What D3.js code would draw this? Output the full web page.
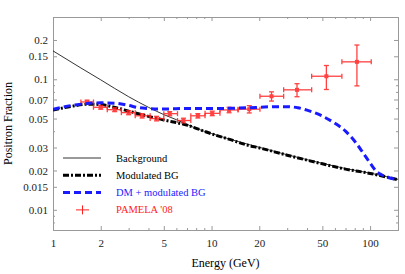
<!DOCTYPE html>
<html>
<head>
<meta charset="utf-8">
<script src="https://cdn.jsdelivr.net/npm/d3@7"></script>
<style>
  body { margin: 0; background: #fff; }
  text { font-family: "Liberation Serif", "DejaVu Serif", serif; }
</style>
</head>
<body>
<div id="chart"></div>
<script>
// curves (energy in GeV, positron fraction)
var bgEnergy = [1, 1.5, 2, 3, 4, 5, 6, 7, 8, 10, 13, 20, 30, 50, 70, 100, 150];
var bgValue  = [0.165, 0.122, 0.099, 0.0735, 0.061, 0.0536, 0.049, 0.0452, 0.042, 0.0384, 0.0348, 0.0301, 0.0264, 0.0227, 0.0207, 0.0191, 0.0171];

var modEnergy = [1, 1.3, 1.7, 2, 2.5, 3, 4, 5, 7, 10, 13, 17, 20, 30, 50, 70, 100, 150];
var modValue  = [0.058, 0.062, 0.0645, 0.064, 0.0605, 0.057, 0.052, 0.0488, 0.0445, 0.0382, 0.0346, 0.0312, 0.0298, 0.0262, 0.0225, 0.0205, 0.019, 0.017];

var dmEnergy = [1, 1.5, 2, 2.5, 3, 3.5, 4, 5, 7, 10, 15, 20, 25, 30, 35, 40, 50, 60, 70, 80, 90, 100, 110, 120, 150];
var dmValue  = [0.059, 0.0645, 0.066, 0.0655, 0.063, 0.0605, 0.0597, 0.0592, 0.0597, 0.0597, 0.0602, 0.061, 0.0617, 0.0617, 0.0605, 0.058, 0.0522, 0.046, 0.04, 0.0335, 0.0275, 0.0228, 0.0196, 0.0184, 0.017];

// PAMELA '08 points
var pamE    = [1.64, 2.0, 2.45, 3.0, 3.65, 4.5, 5.45, 6.65, 8.2, 10.1, 12.9, 17.3, 23.9, 34.6, 53, 82.6];
var pamLo   = [1.5, 1.8, 2.2, 2.7, 3.3, 4.1, 5.0, 6.1, 7.4, 9.1, 11.3, 14.7, 20.2, 28.5, 42.8, 66.4];
var pamHi   = [1.8, 2.2, 2.7, 3.3, 4.1, 5.0, 6.1, 7.4, 9.1, 11.3, 14.7, 20.2, 28.5, 42.8, 66.4, 101.7];
var pamVal  = [0.067, 0.061, 0.0585, 0.0555, 0.0525, 0.05, 0.0545, 0.0483, 0.0525, 0.0548, 0.0582, 0.059, 0.0741, 0.083, 0.1055, 0.136];
var pamErr  = [0.0022, 0.002, 0.002, 0.002, 0.002, 0.002, 0.002, 0.002, 0.002, 0.0022, 0.0028, 0.0038, 0.006, 0.0095, 0.022, 0.047];

var xTicks = [1, 2, 5, 10, 20, 50, 100];
var yTicks = [0.01, 0.015, 0.02, 0.03, 0.05, 0.07, 0.1, 0.15, 0.2];
var xMinor = [3, 4, 6, 7, 8, 9, 30, 40, 60, 70, 80, 90];
var yMinor = [0.008, 0.009, 0.04, 0.06, 0.08, 0.09, 0.3];

var legendNames  = ["Background", "Modulated BG", "DM + modulated BG", "PAMELA '08"];
var legendColors = ["#000", "#000", "#1a1aff", "#ff2020"];

var width = 405, height = 274;
var margin = {top: 17, right: 7, bottom: 44, left: 53};

var svg = d3.select("#chart").append("svg")
    .attr("width", width)
    .attr("height", height);

var x = d3.scaleLog().domain([1, 150]).range([margin.left, width - margin.right]);
var y = d3.scaleLog().domain([0.007, 0.3]).range([height - margin.bottom, margin.top]);

var fmt = function(d) { return String(d); };
var frameColor = "#999";

function styleAxis(g) {
    g.select(".domain").attr("stroke", frameColor);
    g.selectAll(".tick line").attr("stroke", frameColor);
    g.selectAll(".tick text").attr("font-size", 11).attr("fill", "#222");
}

// bottom
svg.append("g")
    .attr("transform", "translate(0," + y.range()[0] + ")")
    .call(d3.axisBottom(x).tickValues(xTicks).tickFormat(fmt).tickSizeInner(-4).tickSizeOuter(0).tickPadding(9))
    .call(styleAxis);
svg.append("g")
    .attr("transform", "translate(0," + y.range()[0] + ")")
    .call(d3.axisBottom(x).tickValues(xMinor).tickFormat("").tickSizeInner(-2).tickSizeOuter(0))
    .call(styleAxis);
// top
svg.append("g")
    .attr("transform", "translate(0," + margin.top + ")")
    .call(d3.axisTop(x).tickValues(xTicks).tickFormat("").tickSizeInner(-4).tickSizeOuter(0))
    .call(styleAxis);
svg.append("g")
    .attr("transform", "translate(0," + margin.top + ")")
    .call(d3.axisTop(x).tickValues(xMinor).tickFormat("").tickSizeInner(-2).tickSizeOuter(0))
    .call(styleAxis);
// left
svg.append("g")
    .attr("transform", "translate(" + margin.left + ",0)")
    .call(d3.axisLeft(y).tickValues(yTicks).tickFormat(fmt).tickSizeInner(-4).tickSizeOuter(0).tickPadding(5))
    .call(styleAxis);
svg.append("g")
    .attr("transform", "translate(" + margin.left + ",0)")
    .call(d3.axisLeft(y).tickValues(yMinor).tickFormat("").tickSizeInner(-2).tickSizeOuter(0))
    .call(styleAxis);
// right
svg.append("g")
    .attr("transform", "translate(" + x.range()[1] + ",0)")
    .call(d3.axisRight(y).tickValues(yTicks).tickFormat("").tickSizeInner(-4).tickSizeOuter(0))
    .call(styleAxis);
svg.append("g")
    .attr("transform", "translate(" + x.range()[1] + ",0)")
    .call(d3.axisRight(y).tickValues(yMinor).tickFormat("").tickSizeInner(-2).tickSizeOuter(0))
    .call(styleAxis);

// axis titles
svg.append("text")
    .attr("x", (x.range()[0] + x.range()[1]) / 2)
    .attr("y", 267)
    .attr("text-anchor", "middle")
    .attr("font-size", 12)
    .text("Energy (GeV)");
svg.append("text")
    .attr("transform", "translate(12," + (margin.top + y.range()[0]) / 2 + ") rotate(-90)")
    .attr("text-anchor", "middle")
    .attr("font-size", 12)
    .text("Positron Fraction");

var plot = svg.append("g");
plot.append("clipPath").attr("id", "clip")
    .append("rect")
    .attr("x", x.range()[0]).attr("y", margin.top)
    .attr("width", x.range()[1] - x.range()[0])
    .attr("height", y.range()[0] - margin.top);
var area = plot.append("g").attr("clip-path", "url(#clip)");

function lineFor(es, vs) {
    return d3.line().curve(d3.curveMonotoneX)
        .x(function(d, i) { return x(es[i]); })
        .y(function(d, i) { return y(vs[i]); })(es);
}

// background
area.append("path")
    .attr("d", lineFor(bgEnergy, bgValue))
    .attr("fill", "none").attr("stroke", "#000").attr("stroke-width", 0.8);
// modulated BG
area.append("path")
    .attr("d", lineFor(modEnergy, modValue))
    .attr("fill", "none").attr("stroke", "#000").attr("stroke-width", 3)
    .attr("stroke-dasharray", "6,2,2,2");

// PAMELA points
var red = "#ff2020";
var pts = area.selectAll(".pam").data(pamE).enter().append("g").attr("class", "pam")
    .attr("stroke", red).attr("stroke-width", 1.3).attr("fill", red).attr("opacity", 0.85);
pts.append("line")
    .attr("x1", function(d, i) { return x(pamLo[i]); })
    .attr("x2", function(d, i) { return x(pamHi[i]); })
    .attr("y1", function(d, i) { return y(pamVal[i]); })
    .attr("y2", function(d, i) { return y(pamVal[i]); });
pts.append("line")
    .attr("x1", function(d) { return x(d); })
    .attr("x2", function(d) { return x(d); })
    .attr("y1", function(d, i) { return y(pamVal[i] + pamErr[i]); })
    .attr("y2", function(d, i) { return y(pamVal[i] - pamErr[i]); });
// caps
[pamLo, pamHi].forEach(function(arr) {
    pts.append("line")
        .attr("x1", function(d, i) { return x(arr[i]); })
        .attr("x2", function(d, i) { return x(arr[i]); })
        .attr("y1", function(d, i) { return y(pamVal[i]) - 2.5; })
        .attr("y2", function(d, i) { return y(pamVal[i]) + 2.5; });
});
[1, -1].forEach(function(s) {
    pts.append("line")
        .attr("x1", function(d) { return x(d) - 2.5; })
        .attr("x2", function(d) { return x(d) + 2.5; })
        .attr("y1", function(d, i) { return y(pamVal[i] + s * pamErr[i]); })
        .attr("y2", function(d, i) { return y(pamVal[i] + s * pamErr[i]); });
});
pts.append("rect")
    .attr("x", function(d) { return x(d) - 2; })
    .attr("y", function(d, i) { return y(pamVal[i]) - 2; })
    .attr("width", 4).attr("height", 4).attr("stroke", "none");

// DM + modulated BG
area.append("path")
    .attr("d", lineFor(dmEnergy, dmValue))
    .attr("fill", "none").attr("stroke", "#1a1aff").attr("stroke-width", 3)
    .attr("stroke-dasharray", "7,4");

// legend
var legend = svg.append("g").attr("transform", "translate(63,158)");
var rows = legend.selectAll("g").data(legendNames).enter().append("g")
    .attr("transform", function(d, i) { return "translate(0," + (i * 17.3) + ")"; });
rows.append("text")
    .attr("x", 53).attr("y", 3.5)
    .attr("font-size", 10.5)
    .attr("fill", function(d, i) { return legendColors[i]; })
    .text(function(d) { return d; });
rows.filter(function(d, i) { return i === 0; }).append("line")
    .attr("x1", 0).attr("x2", 38).attr("stroke", "#000").attr("stroke-width", 0.8);
rows.filter(function(d, i) { return i === 1; }).append("line")
    .attr("x1", 0).attr("x2", 38).attr("stroke", "#000").attr("stroke-width", 3)
    .attr("stroke-dasharray", "6,2,2,2");
rows.filter(function(d, i) { return i === 2; }).append("line")
    .attr("x1", 0).attr("x2", 38).attr("stroke", "#1a1aff").attr("stroke-width", 3)
    .attr("stroke-dasharray", "7,4");
var pm = rows.filter(function(d, i) { return i === 3; }).append("g")
    .attr("stroke", red).attr("stroke-width", 1);
pm.append("line").attr("x1", 13).attr("x2", 26);
pm.append("line").attr("x1", 19.5).attr("x2", 19.5).attr("y1", -4.5).attr("y2", 4.5);
</script>
</body>
</html>
